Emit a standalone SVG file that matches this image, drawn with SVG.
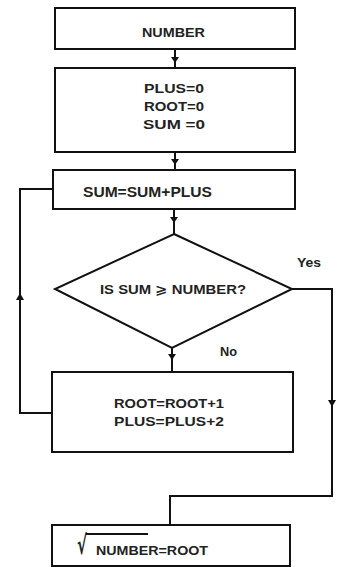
<svg xmlns="http://www.w3.org/2000/svg" width="338" height="567" viewBox="0 0 338 567">
<defs>
<style>
.box{fill:#fff;stroke:#111;stroke-width:2}
.ln{fill:none;stroke:#111;stroke-width:2}
.t{font-family:"Liberation Sans",Arial,sans-serif;font-weight:bold;font-size:13px;fill:#222}
.m{font-family:"DejaVu Sans",sans-serif;font-weight:bold}
.ah{fill:#111}
</style>
</defs>
<rect width="338" height="567" fill="#fff"/>
<g id="connectors">
<line class="ln" x1="175" y1="49" x2="175" y2="68"/>
<polygon class="ah" points="171,57 179,57 175,63"/>
<line class="ln" x1="175" y1="152" x2="175" y2="170"/>
<polygon class="ah" points="171,159 179,159 175,165"/>
<line class="ln" x1="174" y1="209" x2="174" y2="234"/>
<polygon class="ah" points="170,217 178,217 174,223"/>
<line class="ln" x1="172" y1="348" x2="172" y2="372"/>
<polygon class="ah" points="168,354 176,354 172,360"/>
<polyline class="ln" points="52,413 20,413 20,189 53,189"/>
<polygon class="ah" points="16,300 24,300 20,293"/>
<polyline class="ln" points="292,289 332,289 332,496 170,496 170,525"/>
<polygon class="ah" points="328,400 336,400 332,407"/>
</g>
<g id="n1">
<rect class="box" x="55" y="8" width="240" height="41"/>
<text class="t" x="142" y="37" textLength="63" lengthAdjust="spacingAndGlyphs">NUMBER</text>
</g>
<g id="n2">
<rect class="box" x="55" y="68" width="240" height="84"/>
<text class="t" x="144" y="93" textLength="60" lengthAdjust="spacingAndGlyphs">PLUS=0</text>
<text class="t" x="144" y="111" textLength="60" lengthAdjust="spacingAndGlyphs">ROOT=0</text>
<text class="t" x="143" y="129" textLength="62" lengthAdjust="spacingAndGlyphs">SUM  =0</text>
</g>
<g id="n3">
<rect class="box" x="53" y="170" width="242" height="39"/>
<text class="t" x="83" y="197" textLength="129" lengthAdjust="spacingAndGlyphs" style="font-size:14px">SUM=SUM+PLUS</text>
</g>
<g id="n4">
<polygon class="box" points="174,234 292,289 172,348 55,289"/>
<text class="t" x="100" y="294" textLength="146" lengthAdjust="spacingAndGlyphs">IS SUM <tspan class="m">⩾</tspan> NUMBER?</text>
</g>
<g id="labels">
<text class="t" x="297" y="267" textLength="24" lengthAdjust="spacingAndGlyphs">Yes</text>
<text class="t" x="220" y="356" textLength="17" lengthAdjust="spacingAndGlyphs">No</text>
</g>
<g id="n5">
<rect class="box" x="52" y="372" width="241" height="80"/>
<text class="t" x="114" y="408" textLength="110" lengthAdjust="spacingAndGlyphs">ROOT=ROOT+1</text>
<text class="t" x="114" y="426" textLength="110" lengthAdjust="spacingAndGlyphs">PLUS=PLUS+2</text>
</g>
<g id="n6">
<rect class="box" x="52" y="525" width="238" height="41"/>
<text class="t m" x="77" y="554" style="font-size:26px" textLength="10" lengthAdjust="spacingAndGlyphs">√</text>
<line class="ln" x1="86" y1="534" x2="148" y2="534"/>
<text class="t" x="96" y="555" textLength="112" lengthAdjust="spacingAndGlyphs">NUMBER=ROOT</text>
</g>
</svg>
